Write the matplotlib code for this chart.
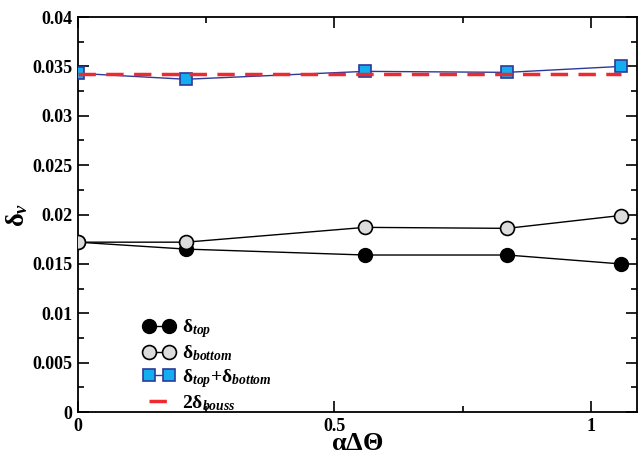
import numpy as np
import matplotlib.pyplot as plt
from matplotlib.ticker import MultipleLocator

plt.rcParams['font.family'] = ['Liberation Serif', 'DejaVu Serif']
plt.rcParams['font.weight'] = 'bold'
plt.rcParams['mathtext.fontset'] = 'custom'
plt.rcParams['mathtext.rm'] = 'Liberation Serif:bold'
plt.rcParams['mathtext.it'] = 'Liberation Serif:italic:bold'
plt.rcParams['mathtext.bf'] = 'Liberation Serif:bold'

# data
alpha_dtheta = [0.0, 0.21, 0.56, 0.837, 1.058]
delta_top = [0.0172, 0.0165, 0.0159, 0.0159, 0.0150]
delta_bottom = [0.0172, 0.0172, 0.0187, 0.0186, 0.0199]
delta_sum = [0.0343, 0.0337, 0.0345, 0.0344, 0.0350]
delta_bouss2 = 0.03428

fig = plt.figure(figsize=(6.38, 4.55), dpi=100)
ax = fig.add_axes([0.1223, 0.0945, 0.876, 0.868])

ax.plot(alpha_dtheta, delta_top, color='black', lw=1.0, marker='o', ms=10,
        mfc='black', mec='black', label=r'$\mathrm{\delta}_{top}$', zorder=3)
ax.plot(alpha_dtheta, delta_bottom, color='black', lw=1.0, marker='o', ms=10,
        mfc='#dcdcdc', mec='black', mew=1.2, label=r'$\mathrm{\delta}_{bottom}$', zorder=3)
ax.plot(alpha_dtheta, delta_sum, color='#2b3a9a', lw=1.0, marker='s', ms=8.5,
        mfc='#12aef0', mec='#2b3a9a', mew=1.2,
        label=r'$\mathrm{\delta}_{top}$+$\mathrm{\delta}_{bottom}$', zorder=4)
ax.plot([0, alpha_dtheta[-1]], [delta_bouss2, delta_bouss2], color='#ee2a2e', lw=2.5,
        dashes=(5, 3), label=r'2$\mathrm{\delta}_{bouss}$', zorder=5)

ax.set_xlim(0, 1.09)
ax.set_ylim(0, 0.04)
ax.xaxis.set_major_locator(MultipleLocator(0.5))
ax.xaxis.set_minor_locator(MultipleLocator(0.25))
ax.yaxis.set_major_locator(MultipleLocator(0.005))
ax.yaxis.set_minor_locator(MultipleLocator(0.0025))
ax.set_xticks([0, 0.5, 1])
ax.set_xticklabels(['0', '0.5', '1'])
ax.set_yticks([0, 0.005, 0.01, 0.015, 0.02, 0.025, 0.03, 0.035, 0.04])
ax.set_yticklabels(['0', '0.005', '0.01', '0.015', '0.02', '0.025', '0.03', '0.035', '0.04'])
ax.tick_params(which='both', direction='in', top=True, right=True, width=1.2,
               labelsize=13, pad=4)
ax.tick_params(which='major', length=8)
ax.tick_params(which='minor', length=4.5)
for s in ax.spines.values():
    s.set_linewidth(1.3)

ax.set_xlabel(r'$\mathrm{\alpha\Delta\Theta}$', fontsize=19, labelpad=-1)
ax.set_ylabel(r'$\mathrm{\delta}_{\nu}$', fontsize=19, labelpad=2)

ax.legend(loc='lower left', bbox_to_anchor=(0.1, -0.027), frameon=False, numpoints=2,
          handlelength=1.6, fontsize=14, labelspacing=0.18, handletextpad=0.35,
          borderaxespad=0.1)

fig.savefig('out.png', dpi=100)
